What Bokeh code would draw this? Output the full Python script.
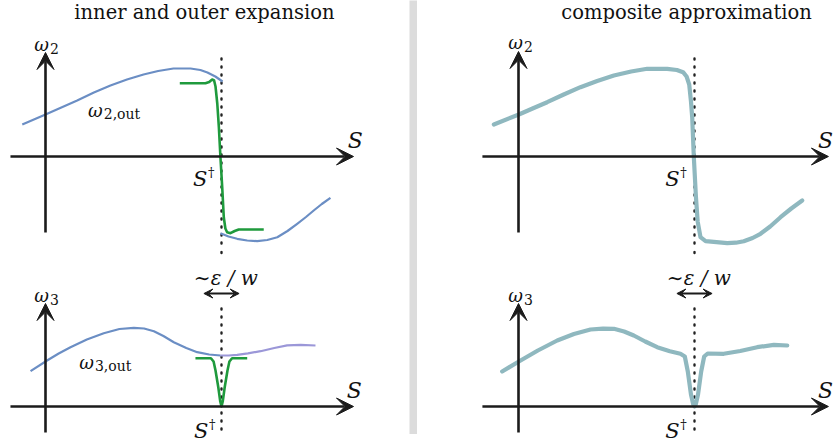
from bokeh.plotting import figure
from bokeh.models import Range1d, Arrow, VeeHead, Label, Spacer
from bokeh.layouts import row, column
from bokeh.embed import file_html
from bokeh.resources import INLINE

# ---------------- data (logical units: S with S-dagger = 1, omega) ----------------
S_DAGGER = 1.0

# top-left: omega_2 outer (two branches) and inner
w2_out_up_S = [-0.132, 0.0, 0.090, 0.180, 0.275, 0.369, 0.463, 0.557, 0.640, 0.727, 0.824, 0.880, 0.920, 0.965, 1.006]
w2_out_up_w = [0.32, 0.42, 0.49, 0.56, 0.64, 0.71, 0.77, 0.82, 0.855, 0.88, 0.88, 0.865, 0.84, 0.80, 0.75]
w2_out_lo_S = [0.994, 1.040, 1.089, 1.146, 1.203, 1.260, 1.317, 1.375, 1.430, 1.480, 1.524, 1.570, 1.619]
w2_out_lo_w = [-0.767, -0.800, -0.823, -0.840, -0.847, -0.835, -0.807, -0.745, -0.673, -0.605, -0.540, -0.475, -0.413]
w2_in_S = [0.763, 0.909, 0.930, 0.947, 0.958, 0.966, 0.976, 0.985, 0.994, 1.004, 1.013, 1.022, 1.032, 1.051, 1.075, 1.098, 1.240]
w2_in_w = [0.733, 0.733, 0.745, 0.770, 0.760, 0.700, 0.530, 0.293, -0.007, -0.307, -0.607, -0.720, -0.757, -0.767, -0.745, -0.730, -0.730]

# top-right: composite omega_2
w2_c_S = [-0.140, 0.002, 0.080, 0.163, 0.257, 0.352, 0.447, 0.542, 0.640, 0.731, 0.845, 0.900, 0.935, 0.955, 0.970,
          0.980, 0.987, 0.996, 1.008, 1.018, 1.034, 1.063, 1.125, 1.186, 1.235, 1.280, 1.330, 1.375, 1.430, 1.489, 1.550, 1.612]
w2_c_w = [0.32, 0.42, 0.48, 0.543, 0.62, 0.693, 0.755, 0.81, 0.85, 0.877, 0.877, 0.865, 0.843, 0.80, 0.72,
          0.55, 0.39, 0.0, -0.40, -0.65, -0.807, -0.847, -0.857, -0.867, -0.862, -0.847, -0.815, -0.773, -0.700, -0.607, -0.520, -0.44]

# bottom-left: omega_3 outer and inner
w3_out_S = [-0.085, 0.009, 0.075, 0.142, 0.235, 0.331, 0.420, 0.502, 0.560, 0.616, 0.670, 0.729, 0.800, 0.862, 0.930, 0.994]
w3_out_w = [0.353, 0.46, 0.53, 0.593, 0.67, 0.733, 0.775, 0.787, 0.780, 0.753, 0.705, 0.643, 0.585, 0.543, 0.520, 0.51]
w3_out_r_S = [0.994, 1.040, 1.089, 1.150, 1.222, 1.300, 1.373, 1.450, 1.534]
w3_out_r_w = [0.51, 0.510, 0.517, 0.532, 0.553, 0.585, 0.612, 0.617, 0.61]
w3_in_S = [0.852, 0.940, 0.955, 0.966, 0.982, 0.993, 1.0, 1.007, 1.018, 1.034, 1.045, 1.060, 1.146]
w3_in_w = [0.483, 0.483, 0.45, 0.36, 0.19, 0.05, 0.0, 0.05, 0.19, 0.36, 0.45, 0.483, 0.483]

# bottom-right: composite omega_3
w3_c_S = [-0.093, 0.002, 0.110, 0.220, 0.315, 0.409, 0.480, 0.542, 0.600, 0.655, 0.720, 0.788, 0.860, 0.920,
          0.945, 0.962, 0.980, 0.993, 1.0, 1.007, 1.020, 1.038, 1.055, 1.075, 1.166, 1.260, 1.356, 1.451, 1.527]
w3_c_w = [0.35, 0.45, 0.56, 0.66, 0.725, 0.77, 0.778, 0.777, 0.750, 0.71, 0.650, 0.593, 0.553, 0.527,
          0.50, 0.35, 0.12, 0.02, 0.0, 0.02, 0.12, 0.35, 0.50, 0.53, 0.527, 0.555, 0.593, 0.617, 0.61]

# ---------------- styling / geometry ----------------
FONT = "DejaVu Serif"
AX = "#1b1b1b"
BLUE = "#6b8ec4"
LAV = "#9b97d8"
GREEN = "#1f9a3d"
TEAL = "#8fb8bf"
SX, WY = 176.0, 100.0   # pixels per logical unit


def panel(left, top, width, height, x0, y0):
    xr = Range1d((left - x0) / SX, (left + width - x0) / SX)
    yr = Range1d((y0 - (top + height)) / WY, (y0 - top) / WY)
    p = figure(width=width, height=height, x_range=xr, y_range=yr,
               output_backend="svg", toolbar_location=None, min_border=0,
               x_axis_type=None, y_axis_type=None, outline_line_color=None,
               background_fill_color="white", border_fill_color="white")
    p.grid.visible = False
    return p


def axes(p, s0, s1, w0, w1):
    p.add_layout(Arrow(end=VeeHead(size=17, fill_color=AX, line_color=AX, line_width=1),
                       x_start=s0, y_start=0, x_end=s1, y_end=0, line_color=AX, line_width=2.6))
    p.add_layout(Arrow(end=VeeHead(size=17, fill_color=AX, line_color=AX, line_width=1),
                       x_start=0, y_start=w0, x_end=0, y_end=w1, line_color=AX, line_width=2.6))


def lab(p, x, y, text, size, style="italic", align="center", baseline="middle"):
    p.add_layout(Label(x=x, y=y, text=text, text_font=FONT, text_font_size=size,
                       text_font_style=style, text_align=align, text_baseline=baseline,
                       text_color="#111111"))


def dotted(p, w0, w1):
    p.line([S_DAGGER, S_DAGGER], [w0, w1], line_color="#222222", line_width=2.4,
           line_dash="1 7", line_cap="round")


def omega_label(p, x, y, sub):
    lab(p, x, y, "\u03c9", "18px", align="right")
    lab(p, x + 0.006, y - 0.035, sub, "14px", style="normal", align="left")


def s_axis_label(p, x, y):
    lab(p, x, y, "S", "22px")


def s_dagger(p, x, y):
    lab(p, x, y, "S", "21px", align="right")
    lab(p, x + 0.004, y + 0.065, "\u2020", "13px", style="normal", align="left")


def eps_arrow(p, w):
    p.add_layout(Arrow(start=VeeHead(size=9, fill_color=AX, line_color=AX),
                       end=VeeHead(size=9, fill_color=AX, line_color=AX),
                       x_start=0.90, y_start=w, x_end=1.10, y_end=w,
                       line_color=AX, line_width=2))
    lab(p, 1.025, w + 0.155, "\u223c\u03b5 / w", "20px")


TOP_Y0, BOT_Y0 = 156, 406
L_X0, R_X0 = 45, 518

# ---------------- top-left ----------------
tl = panel(0, 0, 409, 250, L_X0, TOP_Y0)
dotted(tl, 0.98, -0.94)
axes(tl, -0.199, 1.75, -0.76, 1.04)
tl.line(w2_out_up_S, w2_out_up_w, line_color=BLUE, line_width=2.2, line_join="round")
tl.line(w2_out_lo_S, w2_out_lo_w, line_color=BLUE, line_width=2.2, line_join="round")
tl.line(w2_in_S, w2_in_w, line_color=GREEN, line_width=2.6, line_join="round")
lab(tl, 0.903, 1.44, "inner and outer expansion", "19.5px", style="normal")
omega_label(tl, 0.02, 1.12, "2")
omega_label(tl, 0.325, 0.46, "2,out")
s_axis_label(tl, 1.76, 0.16)
s_dagger(tl, 0.92, -0.22)

# ---------------- top-right ----------------
tr = panel(417, 0, 423, 250, R_X0, TOP_Y0)
dotted(tr, 0.98, -0.94)
axes(tr, -0.205, 1.761, -0.76, 1.05)
tr.line(w2_c_S, w2_c_w, line_color=TEAL, line_width=4.2, line_join="round", line_cap="round")
lab(tr, 0.955, 1.44, "composite approximation", "19.5px", style="normal")
omega_label(tr, 0.025, 1.14, "2")
s_axis_label(tr, 1.745, 0.16)
s_dagger(tr, 0.915, -0.22)

# ---------------- bottom-left ----------------
bl = panel(0, 250, 409, 195, L_X0, BOT_Y0)
dotted(bl, 1.545, 1.50)
dotted(bl, 0.98, -0.24)
axes(bl, -0.199, 1.75, -0.26, 1.03)
bl.line(w3_out_S, w3_out_w, line_color=BLUE, line_width=2.2, line_join="round")
bl.line(w3_out_r_S, w3_out_r_w, line_color=LAV, line_width=2.2, line_join="round")
bl.line(w3_in_S, w3_in_w, line_color=GREEN, line_width=2.6, line_join="round")
eps_arrow(bl, 1.13)
omega_label(bl, 0.02, 1.11, "3")
omega_label(bl, 0.275, 0.44, "3,out")
s_axis_label(bl, 1.755, 0.16)
s_dagger(bl, 0.925, -0.24)

# ---------------- bottom-right ----------------
br = panel(417, 250, 423, 195, R_X0, BOT_Y0)
dotted(br, 1.545, 1.50)
dotted(br, 0.98, -0.24)
axes(br, -0.205, 1.761, -0.26, 1.03)
br.line(w3_c_S, w3_c_w, line_color=TEAL, line_width=4.2, line_join="round", line_cap="round")
eps_arrow(br, 1.13)
omega_label(br, 0.025, 1.11, "3")
s_axis_label(br, 1.745, 0.16)
s_dagger(br, 0.915, -0.24)

# ---------------- separator ----------------
sep = figure(width=8, height=434, x_range=Range1d(0, 1), y_range=Range1d(0, 1),
             output_backend="svg", toolbar_location=None, min_border=0,
             x_axis_type=None, y_axis_type=None, outline_line_color=None,
             background_fill_color="#dcdcdc", border_fill_color="#dcdcdc")
sep.grid.visible = False

layout = row(column(tl, bl, spacing=0),
             column(sep, Spacer(width=8, height=11), spacing=0),
             column(tr, br, spacing=0), spacing=0)

open("out.html", "w").write(file_html(layout, INLINE))
